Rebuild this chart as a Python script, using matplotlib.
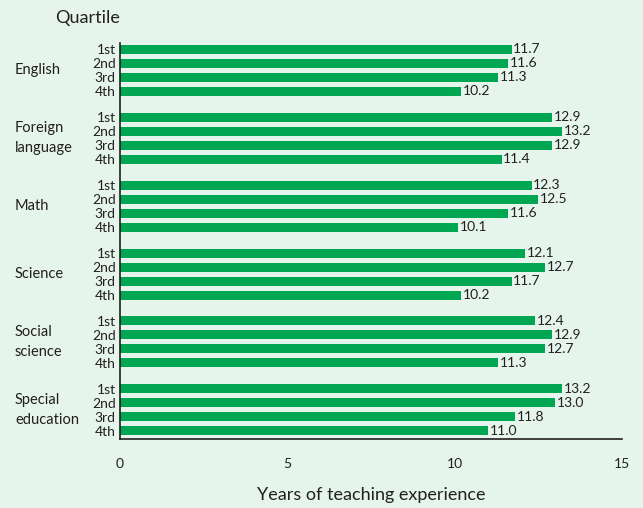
import matplotlib.pyplot as plt

subjects = ["English", "Foreign\nlanguage", "Math", "Science", "Social\nscience", "Special\neducation"]
quartiles = ["1st", "2nd", "3rd", "4th"]
years = [
    [11.7, 11.6, 11.3, 10.2],
    [12.9, 13.2, 12.9, 11.4],
    [12.3, 12.5, 11.6, 10.1],
    [12.1, 12.7, 11.7, 10.2],
    [12.4, 12.9, 12.7, 11.3],
    [13.2, 13.0, 11.8, 11.0],
]

bg = "#e5f5ec"
green = "#00a651"
txt = "#231f20"

plt.rcParams['font.family'] = ['Lato', 'DejaVu Sans']

fig = plt.figure(figsize=(6.43, 5.08), dpi=100, facecolor=bg)
ax = fig.add_axes([120 / 643, 69 / 508, 502 / 643, 396 / 508])
ax.set_facecolor(bg)

# posiciones: grupo cada 68, barra cada 14
group_step = 68
bar_step = 14
ypos, labels = [], []
for g, vals in enumerate(years):
    for i, v in enumerate(vals):
        y = g * group_step + i * bar_step
        ax.barh(y, v, height=9, color=green)
        ax.text(v + 0.05, y, f"{v:.1f}", va="center", ha="left", fontsize=10, color=txt)
        ypos.append(y)
        labels.append(quartiles[i])

ax.set_ylim(390, -6)
ax.set_xlim(0, 15)
ax.set_yticks(ypos)
ax.set_yticklabels(labels, fontsize=10, color=txt)
ax.tick_params(axis="y", length=0, pad=3)
ax.set_xticks([0, 5, 10, 15])
ax.tick_params(axis="x", length=0, pad=14, labelsize=10, labelcolor=txt)

# nombres de materias a la izquierda
for g, name in enumerate(subjects):
    yc = g * group_step + 1.5 * bar_step
    ax.annotate(name, xy=(0, yc), xycoords=("axes fraction", "data"),
                xytext=(-105, 0), textcoords="offset pixels", ha="left", va="center",
                fontsize=10.5, color=txt, linespacing=1.6)

for s in ["top", "right"]:
    ax.spines[s].set_visible(False)
for s in ["left", "bottom"]:
    ax.spines[s].set_color(txt)
    ax.spines[s].set_linewidth(1.2)

ax.set_xlabel("Years of teaching experience", fontsize=13, color=txt, labelpad=12)
fig.text(55 / 643, 1 - 18 / 508, "Quartile", fontsize=13, color=txt, ha="left", va="center")

fig.savefig("out.png", dpi=100, facecolor=bg)
